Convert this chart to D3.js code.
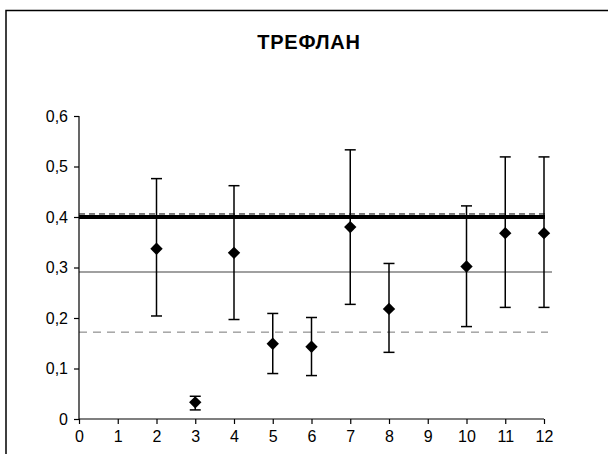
<!DOCTYPE html>
<html>
<head>
<meta charset="utf-8">
<script src="https://cdn.jsdelivr.net/npm/d3@7"></script>
<style>
  body { margin: 0; background: #fff; }
  svg { display: block; font-family: "Liberation Sans", Arial, sans-serif; }
</style>
</head>
<body>
<div id="chart"></div>
<script>
(function(d3) {
    "use strict";

    var title = "ТРЕФЛАН";

    // sample number, mean, lower and upper bound of error bar
    var samples = [2, 3, 4, 5, 6, 7, 8, 10, 11, 12];
    var means   = [0.337, 0.033, 0.329, 0.149, 0.143, 0.380, 0.218, 0.302, 0.368, 0.368];
    var lows    = [0.204, 0.018, 0.197, 0.090, 0.086, 0.227, 0.132, 0.183, 0.221, 0.221];
    var highs   = [0.476, 0.045, 0.462, 0.209, 0.201, 0.533, 0.308, 0.422, 0.519, 0.519];

    var xTicks = [0, 1, 2, 3, 4, 5, 6, 7, 8, 9, 10, 11, 12];
    var yTicks = [0, 0.1, 0.2, 0.3, 0.4, 0.5, 0.6];

    // reference lines
    var refValues = [0.406, 0.4, 0.291, 0.172];
    var refStyles = ["dashTop", "thick", "gray", "dashLow"];

    var width = 608, height = 454;
    var margin = {top: 116, left: 79, right: 64, bottom: 35};

    var fmt = function(d) { return d3.format(".1f")(d).replace(".", ","); };

    var x = d3.scaleLinear().domain([0, 12]).range([margin.left, width - margin.right]);
    var y = d3.scaleLinear().domain([0, 0.6]).range([height - margin.bottom, margin.top]);

    var svg = d3.select("#chart").append("svg")
        .attr("width", width)
        .attr("height", height);

    // chart area border (top and left visible)
    svg.append("path")
        .attr("d", "M6,460V10.5H610")
        .attr("fill", "none")
        .attr("stroke", "#000")
        .attr("stroke-width", 1.5);

    svg.append("text")
        .attr("x", 309)
        .attr("y", 49)
        .attr("text-anchor", "middle")
        .attr("font-size", 20)
        .attr("font-weight", "bold")
        .attr("letter-spacing", 0.8)
        .text(title);

    // reference lines
    var refs = refValues.map(function(v, i) { return {v: v, s: refStyles[i]}; });
    var styleOf = {
        dashTop: {stroke: "#000", w: 1, dash: "6,4", x2: 548},
        thick:   {stroke: "#000", w: 4, dash: null, x2: 545},
        gray:    {stroke: "#808080", w: 1.5, dash: null, x2: 552},
        dashLow: {stroke: "#777", w: 1, dash: "8,6", x2: 548}
    };
    svg.append("g").selectAll("line")
        .data(refs)
        .join("line")
        .attr("x1", x(0))
        .attr("x2", function(d) { return styleOf[d.s].x2; })
        .attr("y1", function(d) { return y(d.v); })
        .attr("y2", function(d) { return y(d.v); })
        .attr("stroke", function(d) { return styleOf[d.s].stroke; })
        .attr("stroke-width", function(d) { return styleOf[d.s].w; })
        .attr("stroke-dasharray", function(d) { return styleOf[d.s].dash; });

    // axes
    var xAxis = d3.axisBottom(x).tickValues(xTicks).tickSize(5).tickPadding(7)
        .tickFormat(d3.format("d"));
    var yAxis = d3.axisLeft(y).tickValues(yTicks).tickSize(5).tickPadding(6)
        .tickFormat(function(d) { return d === 0 ? "0" : fmt(d); });

    var gx = svg.append("g")
        .attr("transform", "translate(0," + y(0) + ")")
        .call(xAxis);
    var gy = svg.append("g")
        .attr("transform", "translate(" + x(0) + ",0)")
        .call(yAxis);

    [gx, gy].forEach(function(g) {
        g.attr("font-size", 16)
            .attr("font-family", "Liberation Sans, Arial, sans-serif");
        g.select(".domain").attr("stroke", "#000").attr("stroke-width", 1.2);
        g.selectAll(".tick line").attr("stroke", "#000").attr("stroke-width", 1.2);
        g.selectAll(".tick text").style("font-size", "16px").attr("fill", "#000");
    });
    gx.select(".domain").attr("d", "M" + x(0) + ",0H" + x(12));
    gy.select(".domain").attr("d", "M0," + y(0) + "V" + y(0.6));

    // error bars
    var data = samples.map(function(s, i) {
        return {s: s, m: means[i], lo: lows[i], hi: highs[i]};
    });
    var cap = 5.5;
    var bars = svg.append("g")
        .attr("stroke", "#000")
        .attr("stroke-width", 1.5);
    bars.selectAll("line.v")
        .data(data).join("line").attr("class", "v")
        .attr("x1", function(d) { return x(d.s); })
        .attr("x2", function(d) { return x(d.s); })
        .attr("y1", function(d) { return y(d.lo); })
        .attr("y2", function(d) { return y(d.hi); });
    bars.selectAll("line.hi")
        .data(data).join("line").attr("class", "hi")
        .attr("x1", function(d) { return x(d.s) - cap; })
        .attr("x2", function(d) { return x(d.s) + cap; })
        .attr("y1", function(d) { return y(d.hi); })
        .attr("y2", function(d) { return y(d.hi); });
    bars.selectAll("line.lo")
        .data(data).join("line").attr("class", "lo")
        .attr("x1", function(d) { return x(d.s) - cap; })
        .attr("x2", function(d) { return x(d.s) + cap; })
        .attr("y1", function(d) { return y(d.lo); })
        .attr("y2", function(d) { return y(d.lo); });

    // diamond markers
    var r = 6.2;
    svg.append("g").selectAll("path")
        .data(data).join("path")
        .attr("d", "M0," + (-r) + "L" + r + ",0L0," + r + "L" + (-r) + ",0Z")
        .attr("transform", function(d) { return "translate(" + x(d.s) + "," + y(d.m) + ")"; })
        .attr("fill", "#000");

})(d3);
</script>
</body>
</html>
